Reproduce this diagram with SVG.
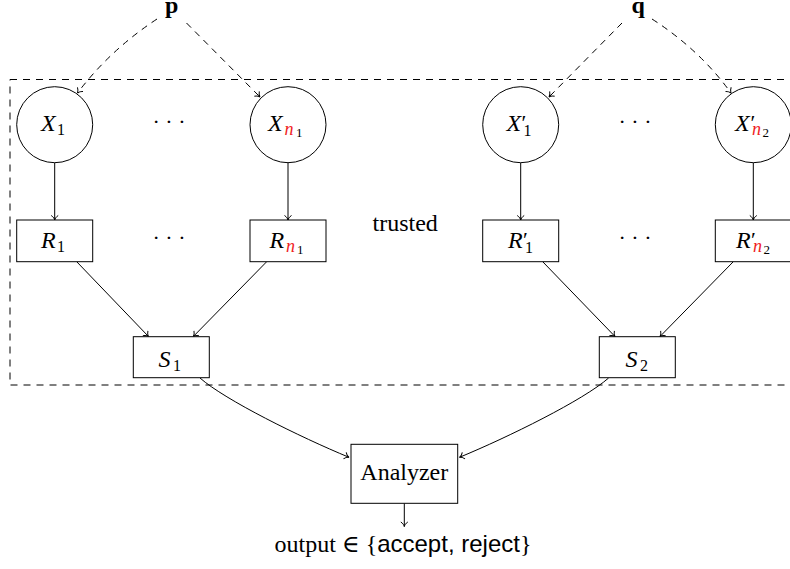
<svg xmlns="http://www.w3.org/2000/svg" width="790" height="569" viewBox="0 0 790 569">
<style>
  .node{fill:#fff;stroke:#000;stroke-width:1}
  .edge{fill:none;stroke:#000;stroke-width:1;marker-end:url(#arr)}
  .dash{stroke-dasharray:6.5 5.5}
  .t{font-family:"Liberation Serif","DejaVu Serif",serif;font-size:24px;fill:#000}
  .m{font-style:italic}
  .s{font-style:normal;font-size:16px}
  .n{font-style:italic;font-size:18px;fill:#f01e1e}
  .ss{font-style:normal;font-size:13px}
  .pr{font-style:normal;font-size:22px}
  .dots{font-family:"Liberation Serif","DejaVu Serif",serif;font-size:22px;fill:#000;text-anchor:middle}
  .sans{font-family:"Liberation Sans",Arial,sans-serif}
</style>
<defs>
  <marker id="arr" markerUnits="userSpaceOnUse" markerWidth="12" markerHeight="12" viewBox="-6 -6 12 12" refX="0" refY="0" orient="auto">
    <path d="M-4.5,-3.5 C-3,-1.2 -1.2,-0.3 0,0 C-1.2,0.3 -3,1.2 -4.5,3.5" fill="none" stroke="#000" stroke-width="1"/>
  </marker>
</defs>

<!-- trusted region -->
<g id="trusted">
  <rect x="10" y="79.5" width="800" height="305.5" fill="none" stroke="#000" stroke-width="1" stroke-dasharray="7 6"/>
  <text class="t" x="372.5" y="231" font-size="23">trusted</text>
</g>

<g id="connectors">
  <path class="edge dash" d="M157,19 Q110,50 77.5,93"/>
  <path class="edge dash" d="M186.5,23 L260,97"/>
  <path class="edge dash" d="M622,23 L549,97"/>
  <path class="edge dash" d="M652,19 Q700,50 731,93"/>
  <path class="edge" d="M54.7,162.7 V220"/>
  <path class="edge" d="M288,162.7 V220"/>
  <path class="edge" d="M520.7,162.7 V220"/>
  <path class="edge" d="M753.3,162.7 V220"/>
  <path class="edge" d="M76.7,261.7 L148.5,336.5"/>
  <path class="edge" d="M266.7,261.7 L193.3,336.5"/>
  <path class="edge" d="M542.7,261.7 L615,336.5"/>
  <path class="edge" d="M733.3,261.7 L660,336.5"/>
  <path class="edge" d="M200,378 C225,400 300,437 349,457.3"/>
  <path class="edge" d="M608.6,378 C583.6,400 508.6,437 459.5,457.3"/>
  <path class="edge" d="M404.3,503.3 V526.5"/>
</g>

<g id="p"><text class="t" x="171.7" y="13" font-weight="bold" font-size="20" text-anchor="middle">p</text></g>
<g id="q"><text class="t" x="638.3" y="13" font-weight="bold" font-size="20" text-anchor="middle">q</text></g>

<g id="X1">
  <circle class="node" cx="54.7" cy="124.7" r="38"/>
  <text class="t m"><tspan x="41" y="131">X</tspan><tspan class="s" x="57" y="135">1</tspan></text>
</g>
<g id="Xn1">
  <circle class="node" cx="288" cy="124.7" r="38"/>
  <text class="t m"><tspan x="268" y="131">X</tspan><tspan class="n" x="284.5" y="134.5">n</tspan><tspan class="ss" x="296" y="137">1</tspan></text>
</g>
<g id="X1p">
  <circle class="node" cx="520.7" cy="124.7" r="38"/>
  <text class="t m"><tspan x="506.5" y="131">X</tspan><tspan class="pr" x="521.5" y="130">′</tspan><tspan class="s" x="523.5" y="135.5">1</tspan></text>
</g>
<g id="Xn2p">
  <circle class="node" cx="753.3" cy="124.7" r="38"/>
  <text class="t m"><tspan x="735" y="131">X</tspan><tspan class="pr" x="750.5" y="130">′</tspan><tspan class="n" x="752" y="134.5">n</tspan><tspan class="ss" x="762.5" y="137">2</tspan></text>
</g>

<g id="dots">
  <text class="dots" x="169" y="129">· · ·</text>
  <text class="dots" x="169" y="245">· · ·</text>
  <text class="dots" x="635" y="129">· · ·</text>
  <text class="dots" x="635" y="245">· · ·</text>
</g>

<g id="R1">
  <rect class="node" x="16.7" y="220" width="76" height="41.7"/>
  <text class="t m"><tspan x="41" y="248">R</tspan><tspan class="s" x="57" y="252">1</tspan></text>
</g>
<g id="Rn1">
  <rect class="node" x="250" y="220" width="76" height="41.7"/>
  <text class="t m"><tspan x="269.5" y="248">R</tspan><tspan class="n" x="286" y="251.5">n</tspan><tspan class="ss" x="297" y="254">1</tspan></text>
</g>
<g id="R1p">
  <rect class="node" x="482.7" y="220" width="76" height="41.7"/>
  <text class="t m"><tspan x="508" y="248">R</tspan><tspan class="pr" x="523" y="247">′</tspan><tspan class="s" x="525" y="252.5">1</tspan></text>
</g>
<g id="Rn2p">
  <rect class="node" x="715.3" y="220" width="76" height="41.7"/>
  <text class="t m"><tspan x="736" y="248">R</tspan><tspan class="pr" x="751" y="247">′</tspan><tspan class="n" x="753" y="251.5">n</tspan><tspan class="ss" x="763.5" y="254">2</tspan></text>
</g>

<g id="S1">
  <rect class="node" x="133.3" y="336.7" width="76" height="41"/>
  <text class="t m"><tspan x="158.5" y="366.5">S</tspan><tspan class="s" x="173" y="370.5">1</tspan></text>
</g>
<g id="S2">
  <rect class="node" x="599.3" y="336.7" width="76" height="41"/>
  <text class="t m"><tspan x="625.5" y="366.5">S</tspan><tspan class="s" x="640" y="370.5">2</tspan></text>
</g>

<g id="Analyzer">
  <rect class="node" x="351" y="444.3" width="106.7" height="59"/>
  <text class="t" x="404.3" y="480" text-anchor="middle">Analyzer</text>
</g>

<g id="output">
  <text class="t" x="403" y="552" font-size="23" text-anchor="middle">output ∈ {<tspan class="sans">accept, reject</tspan>}</text>
</g>
</svg>
